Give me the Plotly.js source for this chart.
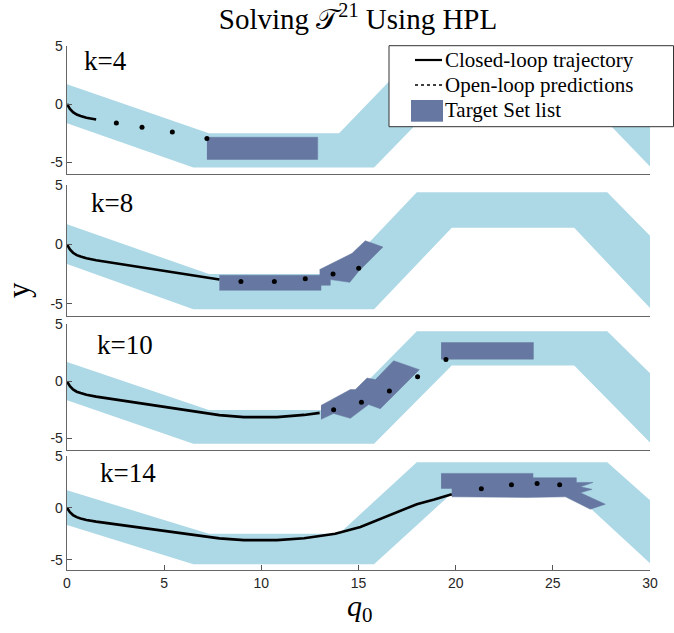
<!DOCTYPE html>
<html><head><meta charset="utf-8">
<script src="https://cdn.plot.ly/plotly-3.0.1.min.js"></script>
<style>body{margin:0;background:#fff}#chart{width:674px;height:633px;}</style>
</head><body><div id="chart"></div>
<script>
// ---------- data ----------
const xTicks = [0, 5, 10, 15, 20, 25, 30];
const yTicks = [-5, 0, 5];
const panelLabels = ['k=4', 'k=8', 'k=10', 'k=14'];

// corridor (state constraint set)
const corridorX = [0, 7.3, 14.0, 18.0, 27.8, 30, 30, 26.1, 19.8, 15.8, 6.5, 0];
const corridorY = [1.7, -2.5, -2.5, 4.4, 4.4, 0.72, -5.35, 1.4, 1.4, -5.45, -5.45, -1.65];

// closed-loop trajectory
const trajX = [0, 0.15, 0.31, 0.5, 0.7, 1.0, 1.5, 3.0, 5.0, 7.3, 7.84, 9.1, 10.8, 12.2, 13.0, 13.8, 15.1, 16.6, 18.0, 18.9, 19.8];
const trajY = [0, -0.42, -0.7, -0.9, -1.02, -1.17, -1.33, -1.72, -2.2, -2.85, -2.95, -3.12, -3.12, -2.93, -2.75, -2.5, -1.85, -0.75, 0.35, 0.8, 1.3];
const trajCount = [7, 11, 15, 21];

// open-loop predictions
const pred1X = [2.54, 3.86, 5.42, 7.2];
const pred1Y = [-1.63, -2.0, -2.4, -2.95];
const pred2X = [8.95, 10.67, 12.26, 13.69, 15.01];
const pred2Y = [-3.13, -3.13, -2.88, -2.49, -2.01];
const pred3X = [13.72, 15.15, 16.59, 18.04, 19.5];
const pred3Y = [-2.48, -1.82, -0.83, 0.42, 1.92];
const pred4X = [21.32, 22.87, 24.19, 25.35];
const pred4Y = [1.84, 2.22, 2.35, 2.22];

// target sets
const tgt1aX = [7.2, 12.9, 12.9, 7.2];
const tgt1aY = [-2.85, -2.85, -4.75, -4.75];

const tgt2aX = [7.84, 13.07, 13.07, 7.84];
const tgt2aY = [-2.6, -2.6, -3.86, -3.86];
const tgt2bX = [13.0, 14.67, 15.35, 16.26, 15.0, 14.55, 13.55, 13.55, 13.0];
const tgt2bY = [-2.12, -0.75, 0.31, -0.22, -2.27, -3.19, -2.96, -3.44, -3.44];

const tgt3aX = [13.07, 14.58, 14.84, 15.44, 15.87, 16.81, 18.13, 16.12, 15.52, 14.58, 13.72, 13.07];
const tgt3aY = [-2.1, -0.71, -0.71, 0.3, 0.16, 1.81, 1.03, -2.39, -2.02, -3.23, -2.8, -3.32];
const tgt3bX = [19.25, 24.0, 24.0, 19.25];
const tgt3bY = [3.4, 3.4, 1.95, 1.95];

const tgt4aX = [19.25, 23.98, 23.98, 26.21, 26.21, 27.07, 26.42, 27.02, 26.42, 27.7, 26.93, 25.65, 23.67, 19.81, 19.81, 19.25];
const tgt4aY = [3.32, 3.32, 2.9, 2.9, 2.45, 2.45, 2.03, 1.78, 1.45, 0.35, -0.13, 1.06, 1.0, 1.06, 1.87, 1.87];

const predX = [pred1X, pred2X, pred3X, pred4X];
const predY = [pred1Y, pred2Y, pred3Y, pred4Y];
const tgtX = [[tgt1aX], [tgt2aX, tgt2bX], [tgt3aX, tgt3bX], [tgt4aX]];
const tgtY = [[tgt1aY], [tgt2aY, tgt2bY], [tgt3aY, tgt3bY], [tgt4aY]];

// ---------- styling ----------
const corridorColor = '#add8e6';
const targetColor = '#6678a1';
const serif = 'Liberation Serif, DejaVu Serif, serif';
const W = 674, H = 633;
const mL = 67, mR = 24, mT = 44, mB = 63;
const pw = W - mL - mR, ph = H - mT - mB;
const px2x = p => (p - mL) / pw;
const px2y = p => (H - mB - p) / ph;
// panel pixel extents (top, bottom)
const panelPx = [[45.7, 174], [185, 315.7], [324.3, 450], [456, 570]];
const labelPx = [[82, 61], [89, 203], [95, 345], [98, 473]];

const traces = [];
const layout = {
  width: W, height: H,
  margin: {l: mL, r: mR, t: mT, b: mB},
  paper_bgcolor: '#fff', plot_bgcolor: '#fff',
  showlegend: false,
  font: {family: 'Liberation Sans, Arial, sans-serif', color: '#262626', size: 13},
  title: {
    text: 'Solving 𝒯<sup>21</sup> Using HPL',
    font: {family: serif, size: 29, color: '#000'},
    x: px2x(358), xref: 'paper', xanchor: 'center',
    y: 1 - 19 / H, yref: 'container', yanchor: 'middle'
  },
  annotations: [],
  shapes: []
};

for (let i = 0; i < 4; i++) {
  const s = i === 0 ? '' : String(i + 1);
  const xa = 'x' + s, ya = 'y' + s;
  traces.push({x: corridorX, y: corridorY, xaxis: xa, yaxis: ya, type: 'scatter', mode: 'lines',
    fill: 'toself', fillcolor: corridorColor, line: {width: 0, color: corridorColor}, hoverinfo: 'skip'});
  for (let j = 0; j < tgtX[i].length; j++) {
    traces.push({x: tgtX[i][j], y: tgtY[i][j], xaxis: xa, yaxis: ya, type: 'scatter', mode: 'lines',
      fill: 'toself', fillcolor: targetColor, line: {width: 0.5, color: targetColor}, hoverinfo: 'skip'});
  }
  traces.push({x: trajX.slice(0, trajCount[i]), y: trajY.slice(0, trajCount[i]), xaxis: xa, yaxis: ya,
    type: 'scatter', mode: 'lines', line: {color: '#000', width: 2.6}, hoverinfo: 'skip'});
  traces.push({x: predX[i], y: predY[i], xaxis: xa, yaxis: ya, type: 'scatter', mode: 'markers',
    marker: {color: '#000', size: 5}, hoverinfo: 'skip'});

  const top = panelPx[i][0], bot = panelPx[i][1];
  layout['xaxis' + s] = {
    domain: [0, 1], anchor: ya, range: [0, 30], matches: i === 0 ? undefined : 'x',
    tickvals: xTicks, showticklabels: i === 3, ticks: i === 3 ? 'inside' : '', ticklen: 5,
    tickcolor: '#555', showline: true, linecolor: '#666', linewidth: 1.3,
    showgrid: false, zeroline: false, tickfont: {size: 14, color: '#262626'}
  };
  layout['yaxis' + s] = {
    domain: [Math.max(0, px2y(bot)), Math.min(1, px2y(top))], anchor: xa, range: [-6, 5],
    tickvals: yTicks, ticktext: yTicks.map(String), ticks: 'inside', ticklen: 5, tickcolor: '#555',
    showline: true, linecolor: '#666', linewidth: 1.3, showgrid: false, zeroline: false,
    tickfont: {size: 14, color: '#262626'}
  };
  layout.annotations.push({text: panelLabels[i], xref: 'paper', yref: 'paper',
    x: px2x(labelPx[i][0]), y: px2y(labelPx[i][1]), xanchor: 'left', yanchor: 'middle',
    showarrow: false, font: {family: serif, size: 27, color: '#000'}});
}

// axis titles
layout.annotations.push({text: 'y', xref: 'paper', yref: 'paper', x: px2x(18), y: px2y(290),
  textangle: -90, showarrow: false, xanchor: 'center', yanchor: 'middle',
  font: {family: serif, size: 31, color: '#000'}});
layout.annotations.push({text: '<i>q</i><sub>0</sub>', xref: 'paper', yref: 'paper', x: px2x(360), y: px2y(608),
  showarrow: false, xanchor: 'center', yanchor: 'middle',
  font: {family: serif, size: 30, color: '#000'}});

// legend box (drawn manually)
const legFont = {family: serif, size: 21, color: '#000'};
layout.shapes.push({type: 'rect', xref: 'paper', yref: 'paper', x0: px2x(389), x1: px2x(673.5), y0: px2y(126.7), y1: px2y(45.7),
  fillcolor: '#fff', line: {color: '#333', width: 1}});
layout.shapes.push({type: 'line', xref: 'paper', yref: 'paper', x0: px2x(415), x1: px2x(442), y0: px2y(60), y1: px2y(60),
  line: {color: '#000', width: 2.2}});
layout.shapes.push({type: 'line', xref: 'paper', yref: 'paper', x0: px2x(415), x1: px2x(442), y0: px2y(85), y1: px2y(85),
  line: {color: '#000', width: 1.6, dash: 'dot'}});
layout.shapes.push({type: 'rect', xref: 'paper', yref: 'paper', x0: px2x(411), x1: px2x(443), y0: px2y(121.7), y1: px2y(100),
  fillcolor: targetColor, line: {width: 0}});
const legTexts = ['Closed-loop trajectory', 'Open-loop predictions', 'Target Set list'];
const legYs = [60, 85, 110];
legTexts.forEach((t, k) => layout.annotations.push({text: t, xref: 'paper', yref: 'paper', x: px2x(443), y: px2y(legYs[k]),
  xanchor: 'left', yanchor: 'middle', showarrow: false, font: legFont}));

Plotly.newPlot('chart', traces, layout, {staticPlot: true, displayModeBar: false});
</script></body></html>
